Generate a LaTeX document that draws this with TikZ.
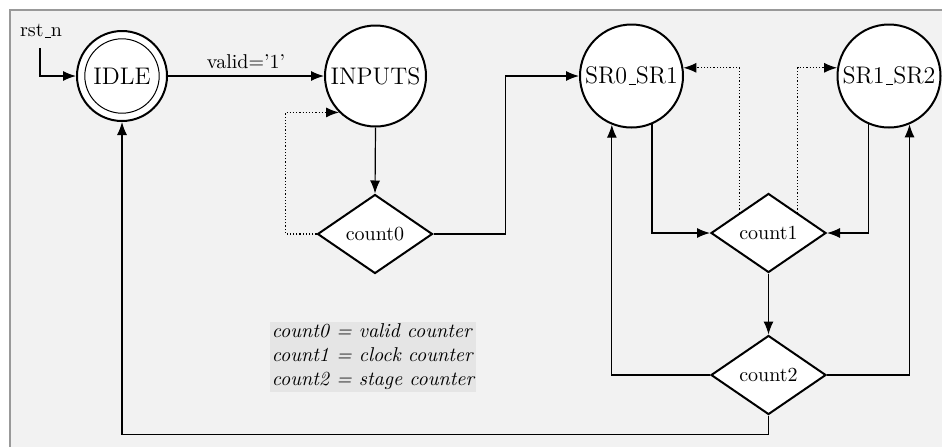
\documentclass[tikz,border=0pt]{standalone}
\usetikzlibrary{shapes.geometric,arrows.meta}
% narrow underscore, as in the classic text fonts
\newcommand{\uscore}{\leavevmode\kern.06em\rule[-0.6pt]{.3em}{0.45pt}}
\begin{document}
\begin{tikzpicture}[x=0.5pt,y=-0.5pt,
  state/.style={circle,draw,line width=1pt,fill=white,inner sep=0pt,font=\large},
  decision/.style={diamond,draw,line width=1pt,fill=white,inner sep=0pt,
    minimum width=57.5pt,minimum height=39.5pt},
  flow/.style={line width=0.6pt,-{Latex[length=6.5pt,width=5pt]}},
  loopback/.style={flow,densely dotted},
  legend/.style={fill=black!10,inner sep=1pt,align=left,font=\itshape}]
\useasboundingbox (0,0) rectangle (942,446);
\clip (0,0) rectangle (942,446);
% canvas
\draw[black!40,fill=black!5,line width=0.8pt] (10,10) rectangle (980,480);

% states
\node[state,minimum size=45pt] (IDLE) at (122,76) {IDLE};
\draw[line width=0.5pt] (IDLE.center) circle[radius=18.6pt];
\node[state,minimum size=50.5pt] (INPUTS) at (375.5,76) {INPUTS};
\node[state,minimum size=51.5pt] (SR0) at (631.5,76) {SR0\uscore SR1};
\node[state,minimum size=51.5pt] (SR1) at (889,76) {SR1\uscore SR2};

% counters
\node[decision] (count0) at (375,234) {count0};
\node[decision] (count1) at (768.5,233) {count1};
\node[decision] (count2) at (768.5,375) {count2};

% reset input
\node (rst) at (41,31) {rst\uscore n};
\coordinate (rstin) at (40,48);
\draw[flow] (rstin) |- (IDLE.west);

% transitions
\draw[flow] (IDLE.east) -- node[above] {valid='1'} (INPUTS.west);
\draw[flow] (INPUTS.south) -- (count0.north);
\draw[loopback] (count0.west) -- ++(-31,0) |- (INPUTS.south west);
\draw[flow] (count0.east) -- ++(72,0) |- (SR0.west);
\draw[flow] (SR0.-67) |- (count1.west);
\draw[flow] (SR1.-113) |- (count1.east);
\draw[loopback] (count1.north west) |- (SR0.9);
\draw[loopback] (count1.north east) |- (SR1.171);
\draw[flow] (count1.south) -- (count2.north);
\draw[flow] (count2.west) -| (SR0.-112);
\draw[flow] (count2.east) -| (SR1.-67);
\draw[flow] (count2.south) -- ++(0,19) -| (IDLE.south);

% legend
\node[legend] (key) at (373,356.5) {count0 = valid counter\\count1 = clock counter\\count2 = stage counter};
\end{tikzpicture}
\end{document}
